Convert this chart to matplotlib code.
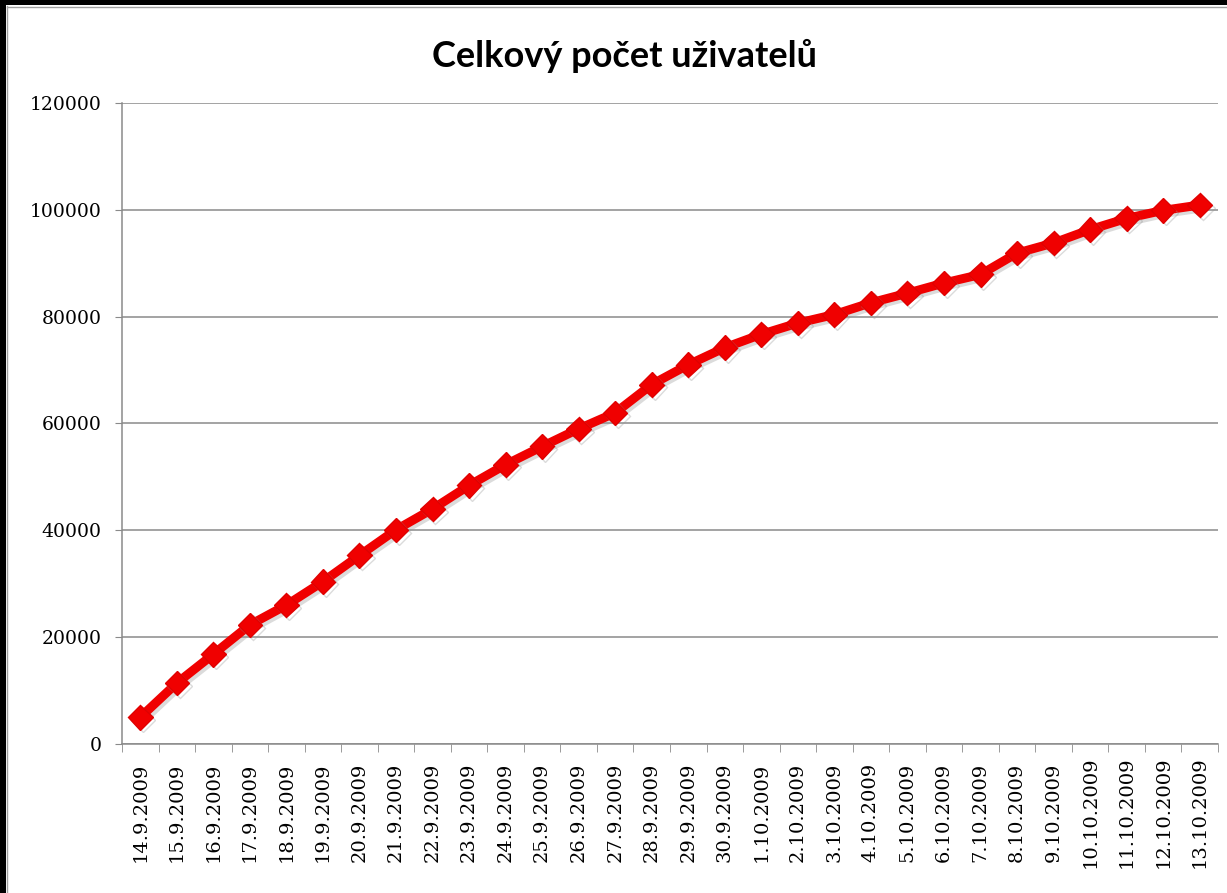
import matplotlib
matplotlib.use('Agg')
import matplotlib.pyplot as plt
import matplotlib.patheffects as pe
from matplotlib.patches import Rectangle

dates = ['14.9.2009', '15.9.2009', '16.9.2009', '17.9.2009', '18.9.2009',
         '19.9.2009', '20.9.2009', '21.9.2009', '22.9.2009', '23.9.2009',
         '24.9.2009', '25.9.2009', '26.9.2009', '27.9.2009', '28.9.2009',
         '29.9.2009', '30.9.2009', '1.10.2009', '2.10.2009', '3.10.2009',
         '4.10.2009', '5.10.2009', '6.10.2009', '7.10.2009', '8.10.2009',
         '9.10.2009', '10.10.2009', '11.10.2009', '12.10.2009', '13.10.2009']
users = [5000, 11400, 16800, 22300, 26000, 30400, 35300, 40100, 44000, 48400,
         52300, 55700, 59000, 62000, 67300, 71000, 74200, 76700, 78800, 80400,
         82600, 84400, 86300, 87900, 91900, 93800, 96300, 98400, 99900, 100900]
yticks = [0, 20000, 40000, 60000, 80000, 100000, 120000]

W, H = 1227, 893
fig = plt.figure(figsize=(W / 100, H / 100), dpi=100, facecolor='white')

# black edge on the left and top, thin grey chart frame inside
fig.patches.append(Rectangle((0, 0), 6 / W, 1, transform=fig.transFigure,
                             facecolor='black', edgecolor='none', zorder=0))
fig.patches.append(Rectangle((0, 1 - 5 / H), 1, 5 / H, transform=fig.transFigure,
                             facecolor='black', edgecolor='none', zorder=0))
fig.add_artist(plt.Line2D([7 / W, 7 / W], [0, 1 - 6 / H], transform=fig.transFigure,
                          color='#a0a0a0', lw=1))
fig.add_artist(plt.Line2D([7 / W, 1], [1 - 6.5 / H, 1 - 6.5 / H], transform=fig.transFigure,
                          color='#a0a0a0', lw=1))

ax = fig.add_axes([122 / W, 1 - 744 / H, (1218 - 122) / W, (744 - 103) / H])
x = list(range(len(dates)))

ax.plot(x, users, color='#f00000', lw=6.5, marker='D', markersize=12.5,
        markeredgecolor='#e00000', markerfacecolor='#f00000', zorder=3,
        path_effects=[pe.SimpleLineShadow(offset=(2, -2), shadow_color='#999999', alpha=0.35),
                      pe.Normal()])

ax.set_ylim(0, 120000)
ax.set_xlim(-0.5, len(dates) - 0.5)
ax.set_yticks(yticks)
ax.set_yticklabels([str(v) for v in yticks], family='DejaVu Serif', fontsize=13.5)
ax.yaxis.grid(True, color='#8a8a8a', lw=1.1)
ax.set_axisbelow(True)

# Excel centres the rotated date labels vertically
ax.set_xticks(x)
ax.set_xticklabels(dates, rotation=90, family='DejaVu Serif', fontsize=14, va='center')
ax.set_xticks([i - 0.5 for i in range(len(dates) + 1)], minor=True)
ax.tick_params(axis='x', which='major', length=0, pad=49)
ax.tick_params(axis='x', which='minor', length=5.5, color='#8a8a8a', direction='out')
ax.tick_params(axis='y', length=5, color='#8a8a8a', direction='out', pad=9.5)

for s in ['top', 'right']:
    ax.spines[s].set_visible(False)
for s in ['left', 'bottom']:
    ax.spines[s].set_color('#8a8a8a')
    ax.spines[s].set_linewidth(1.1)

fig.text(624 / W, 1 - 56 / H, 'Celkový počet uživatelů', ha='center', va='center',
         family='Lato', fontweight='bold', fontsize=26)

fig.savefig('out.png', dpi=100, facecolor='white')
